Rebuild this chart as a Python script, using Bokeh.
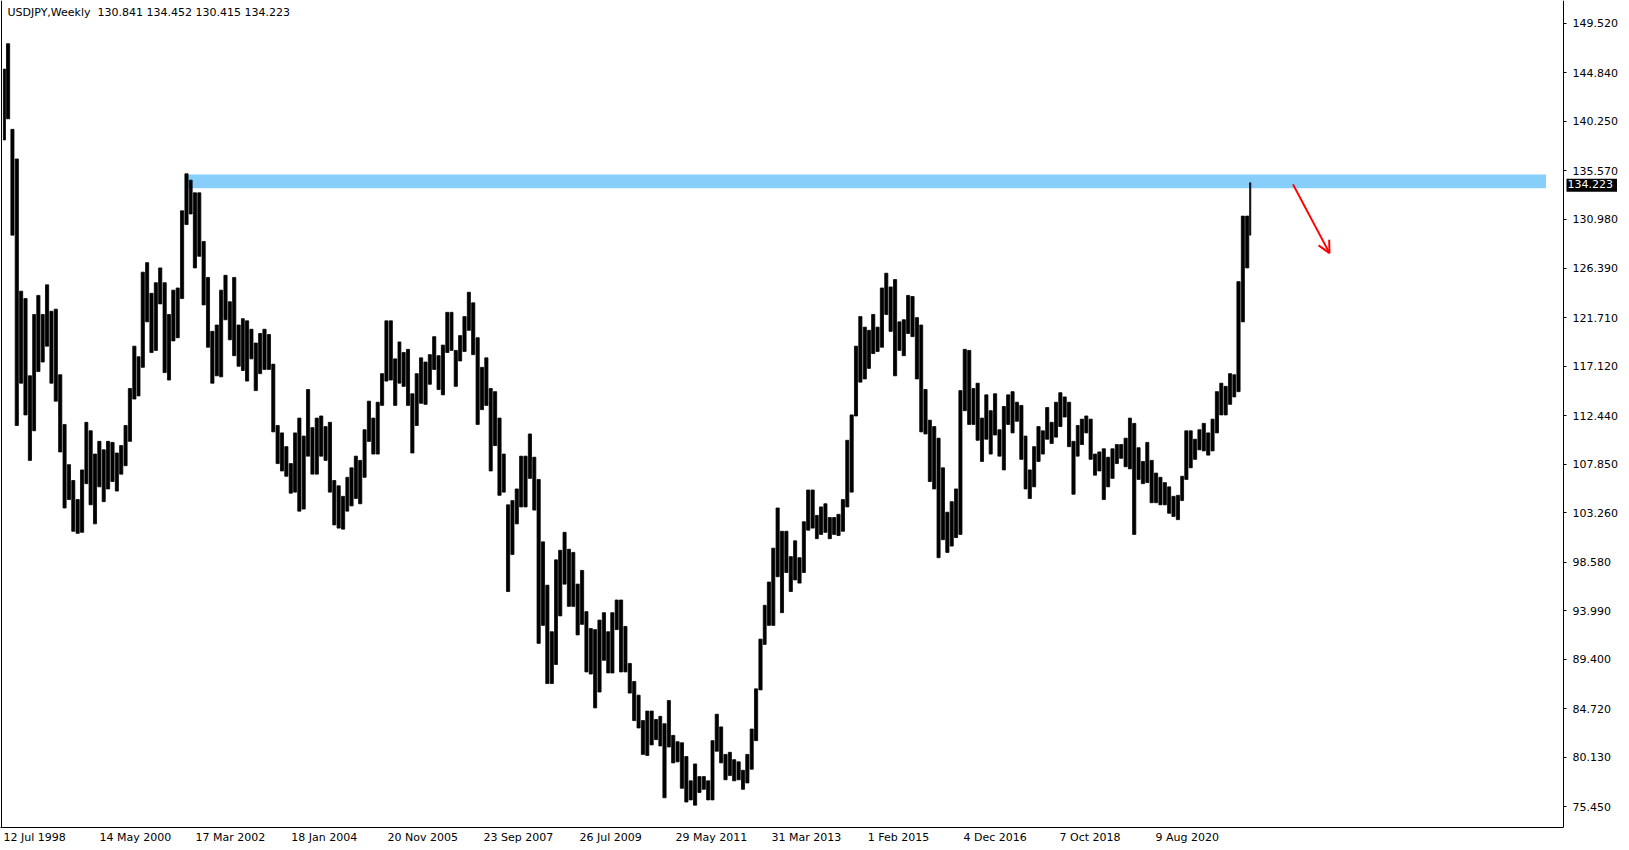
import datetime as dt
from bokeh.plotting import figure
from bokeh.models import Range1d, FixedTicker, NumeralTickFormatter, Label, Arrow, OpenHead, Span
from bokeh.embed import file_html
from bokeh.resources import INLINE

# ---------------- data (monthly high / low) ----------------
first_month = (1998, 7)
high = [
    145.2, 147.6, 139.5, 136.7, 124.2, 123.5,
    116.2, 122.0, 123.8, 122.0, 124.8, 122.3, 122.5, 116.3, 111.6, 107.8, 106.3, 104.5,
    107.3, 111.8, 111.0, 108.8, 110.0, 109.2, 110.0, 109.9, 108.9, 109.6, 111.5, 115.0,
    119.0, 118.0, 126.0, 126.9, 124.0, 125.0, 126.4, 125.0, 122.0, 124.3, 124.5, 131.8,
    135.3, 134.7, 133.5, 133.5, 128.9, 125.5, 120.4, 121.0, 124.3, 125.7, 123.2, 125.5,
    121.0, 121.6, 121.4, 120.6, 119.3, 120.2, 120.6, 120.1, 117.3, 111.5, 110.8, 109.5,
    107.9, 110.8, 112.2, 110.5, 114.9, 111.3, 112.2, 112.4, 111.4, 111.8, 106.3, 105.8,
    104.8, 106.6, 107.5, 108.6, 108.2, 111.1, 113.8, 112.2, 113.7, 116.4, 121.4, 121.4,
    117.8, 119.4, 118.4, 118.7, 114.5, 116.4, 117.9, 117.5, 118.2, 119.9, 118.1, 119.1,
    122.2, 122.2, 118.6, 120.0, 121.8, 124.1, 123.1, 119.8, 117.0, 117.9, 115.0, 114.7,
    112.2, 108.8, 104.0, 104.4, 105.5, 108.6, 108.6, 110.7, 108.5, 106.4, 100.5, 96.4,
    92.0, 98.8, 99.7, 101.4, 99.8, 99.5, 96.5, 97.8, 93.9, 92.3, 92.2, 93.1,
    93.8, 92.0, 93.8, 95.0, 95.0, 92.5, 89.0, 87.3, 86.0, 83.6, 84.5, 84.5,
    83.7, 84.0, 83.3, 85.5, 82.2, 81.6, 81.5, 80.2, 77.9, 79.5, 78.3, 78.3,
    77.9, 81.7, 84.2, 83.0, 80.4, 80.6, 79.9, 79.7, 78.9, 80.4, 82.8, 86.6,
    91.3, 94.5, 96.7, 99.9, 103.7, 101.5, 101.5, 99.1, 100.6, 99.0, 102.4, 105.4,
    105.4, 103.0, 103.8, 104.1, 102.8, 102.8, 103.1, 104.5, 110.1, 112.5, 119.0, 121.8,
    120.8, 120.5, 122.0, 120.8, 124.5, 125.9, 124.6, 125.3, 121.3, 121.5, 123.8, 123.7,
    121.7, 121.0, 114.9, 112.0, 111.4, 110.3, 107.5, 103.3, 104.3, 105.5, 114.8, 118.7,
    118.6, 115.0, 115.5, 112.2, 114.4, 112.9, 114.5, 111.1, 113.3, 114.4, 114.7, 113.7,
    113.4, 110.5, 107.3, 109.5, 111.4, 111.0, 113.2, 111.8, 113.7, 114.6, 114.2, 113.7,
    110.0, 111.5, 112.1, 112.4, 112.1, 108.8, 109.0, 109.3, 108.5, 109.3, 109.7, 109.7,
    110.3, 112.2, 111.7, 109.4, 108.1, 109.9, 108.2, 107.0, 106.6, 106.1, 105.7, 104.8,
    104.9, 106.7, 111.0, 111.0, 110.2, 111.1, 111.7, 110.8, 112.1, 114.7, 115.5, 115.2,
    116.4, 116.3, 125.1, 131.3, 131.3, 134.45,
]
low = [
    138.5, 140.5, 129.5, 111.5, 115.5, 112.5,
    108.2, 111.0, 116.6, 117.5, 119.0, 115.5, 113.8, 109.0, 103.7, 104.5, 101.5, 101.3,
    101.4, 106.0, 104.0, 102.2, 105.7, 104.3, 105.5, 106.2, 105.3, 106.9, 107.7, 110.0,
    114.0, 114.3, 117.0, 121.3, 118.4, 118.6, 123.0, 116.5, 115.8, 119.5, 119.8, 123.5,
    130.5, 131.5, 126.4, 127.5, 122.9, 118.9, 115.5, 116.2, 116.1, 121.5, 119.6, 118.1,
    117.1, 116.7, 115.7, 117.8, 114.8, 116.4, 116.8, 116.8, 110.9, 107.9, 107.2, 106.7,
    105.1, 105.2, 103.4, 103.6, 108.6, 106.9, 106.9, 108.6, 108.2, 105.2, 102.1, 101.8,
    101.7, 103.4, 103.9, 104.6, 104.1, 106.6, 110.0, 108.8, 108.8, 113.4, 115.7, 115.8,
    113.4, 115.5, 115.2, 113.4, 108.9, 111.5, 113.6, 113.5, 115.4, 116.8, 114.9, 114.4,
    118.4, 118.6, 115.2, 117.6, 118.5, 120.5, 118.2, 111.6, 113.0, 113.4, 107.2, 109.6,
    104.9, 105.2, 95.8, 99.3, 102.2, 103.8, 103.8, 106.5, 103.5, 90.9, 92.6, 87.1,
    87.1, 88.9, 93.5, 96.5, 94.4, 94.4, 91.7, 92.7, 88.2, 88.0, 84.8, 86.3,
    89.3, 88.1, 88.1, 92.2, 88.2, 88.2, 86.2, 83.6, 82.9, 80.4, 80.3, 81.3,
    81.8, 81.2, 76.3, 81.1, 79.6, 79.7, 77.2, 75.9, 76.1, 75.6, 76.8, 77.1,
    76.1, 76.1, 80.7, 79.6, 78.0, 78.4, 77.9, 78.0, 77.1, 77.7, 79.0, 81.7,
    86.5, 90.8, 92.6, 92.6, 97.2, 93.8, 97.6, 95.8, 96.9, 96.6, 97.6, 101.6,
    101.8, 100.8, 101.2, 101.4, 100.8, 101.2, 101.1, 101.5, 103.8, 105.2, 112.4, 115.6,
    115.9, 116.9, 118.3, 118.5, 118.9, 122.0, 120.4, 116.2, 118.6, 118.1, 120.2, 119.9,
    115.9, 110.9, 110.7, 106.2, 105.5, 99.0, 100.7, 99.5, 100.1, 100.9, 101.2, 112.9,
    111.6, 111.6, 110.1, 108.1, 110.2, 108.8, 110.6, 108.6, 107.3, 111.6, 110.8, 111.9,
    108.3, 105.5, 104.6, 105.7, 108.1, 108.8, 110.2, 109.8, 110.4, 111.4, 112.3, 109.5,
    105.0, 108.6, 109.7, 110.8, 108.3, 106.8, 107.2, 104.5, 105.7, 106.5, 107.9, 108.4,
    107.6, 107.4, 101.2, 106.4, 106.0, 106.1, 104.2, 104.2, 104.0, 104.0, 103.2, 102.9,
    102.6, 104.4, 106.4, 107.5, 108.3, 109.2, 109.1, 108.7, 109.1, 110.8, 112.5, 112.5,
    113.5, 114.2, 114.7, 121.3, 126.4, 129.5,
]
first_bar = dt.date(1998, 7, 12)      # first weekly bar on the chart
last_bar_end = dt.date(2022, 6, 12)   # end of the last weekly bar

last_ohlc = [130.841, 134.452, 130.415, 134.223]
last_close = 134.223

y_ticks = [149.520, 144.840, 140.250, 135.570, 130.980, 126.390, 121.710, 117.120,
           112.440, 107.850, 103.260, 98.580, 93.990, 89.400, 84.720, 80.130, 75.450]
x_tick_labels = ["12 Jul 1998", "14 May 2000", "17 Mar 2002", "18 Jan 2004", "20 Nov 2005",
                 "23 Sep 2007", "26 Jul 2009", "29 May 2011", "31 Mar 2013", "1 Feb 2015",
                 "4 Dec 2016", "7 Oct 2018", "9 Aug 2020"]

zone_weeks = [181.5, 1542.5]
zone_prices = [133.93, 135.23]
arrow_weeks = [1289.5, 1326.0]
arrow_prices = [134.30, 127.80]

# ---------------- derived positions ----------------
def week_index(d):
    return (d - first_bar).days / 7.0

starts = []
yy, mm = first_month
for _ in range(len(high) + 1):
    starts.append(dt.date(yy, mm, 1))
    mm += 1
    if mm > 12:
        mm = 1
        yy += 1
left = [week_index(max(d, first_bar)) - 0.5 for d in starts[:-1]]
right = [week_index(min(d, last_bar_end)) - 0.5 for d in starts[1:]]
center = [(a + b) / 2 for a, b in zip(left, right)]
span = [(b - a) * 0.72 for a, b in zip(left, right)]

x_tick_pos = [week_index(dt.datetime.strptime(s, "%d %b %Y").date()) for s in x_tick_labels]

FONT = "DejaVu Sans"
FS = 11
# approximate DejaVu Sans advance widths (em) to left-align the date labels on their bars
ADV = {"0": .636, "1": .636, "2": .636, "3": .636, "4": .636, "5": .636, "6": .636, "7": .636,
       "8": .636, "9": .636, " ": .318, "J": .295, "u": .634, "l": .278, "M": .863, "a": .613,
       "y": .592, "r": .411, "S": .635, "e": .615, "p": .635, "N": .748, "o": .612, "v": .592,
       "F": .575, "b": .635, "D": .770, "c": .550, "O": .787, "t": .392, "A": .684, "g": .635}
def text_w(s):
    return sum(ADV.get(ch, .6) for ch in s) * FS

CHART_W = 1563          # width of the price area (px) - price scale sits at its right edge
FW, FH = 1629, 827
PX_PER_YEN = 10.576
x0 = -3
x_scale = x0 + CHART_W
y_top = 149.52 + 22.9 / PX_PER_YEN
y_bot = y_top - FH / PX_PER_YEN

p = figure(frame_width=FW, frame_height=FH, output_backend="svg", toolbar_location=None,
           x_range=Range1d(x0, x0 + FW), y_range=Range1d(y_bot, y_top),
           y_axis_location="right", min_border_left=0, min_border_top=0,
           min_border_right=0, min_border_bottom=0)
p.grid.visible = False
p.outline_line_color = None
p.background_fill_color = "white"
p.border_fill_color = "white"

# left border of the chart window
p.add_layout(Span(location=x0 + 1, dimension="height", line_color="black", line_width=1))

# support/resistance zone
p.quad(left=[zone_weeks[0]], right=[zone_weeks[1]], bottom=[zone_prices[0]], top=[zone_prices[1]],
       fill_color="#87CEFA", line_color=None)

# price bars
p.vbar(x=center, width=span, top=high, bottom=low, fill_color="black",
       line_color="black", line_width=0.8)

# arrow
p.add_layout(Arrow(x_start=arrow_weeks[0], y_start=arrow_prices[0],
                   x_end=arrow_weeks[1], y_end=arrow_prices[1],
                   line_color="red", line_width=2,
                   end=OpenHead(line_color="red", line_width=2, size=12)))

# right price scale, placed at the right edge of the price area
ya = p.yaxis[0]
ya.fixed_location = x_scale
ya.ticker = FixedTicker(ticks=y_ticks)
ya.formatter = NumeralTickFormatter(format="0.000")
ya.minor_tick_line_color = None
ya.major_tick_in = 0
ya.major_tick_out = 3
ya.major_label_standoff = 6
ya.axis_line_color = "black"
ya.major_label_text_font = FONT
ya.major_label_text_font_size = f"{FS}px"
ya.major_label_text_color = "black"

# time axis: date labels start at their dates
lab_pos = [t + text_w(s) / 2 for t, s in zip(x_tick_pos, x_tick_labels)]
xa = p.xaxis[0]
xa.bounds = (x0, x_scale)
xa.ticker = FixedTicker(ticks=lab_pos)
xa.major_label_overrides = {t: s for t, s in zip(lab_pos, x_tick_labels)}
xa.major_tick_line_color = None
xa.minor_tick_line_color = None
xa.major_tick_out = 0
xa.major_tick_in = 0
xa.major_label_standoff = 3
xa.axis_line_color = "black"
xa.major_label_text_font = FONT
xa.major_label_text_font_size = f"{FS}px"
xa.major_label_text_color = "black"

header = "USDJPY,Weekly\u00a0\u00a0" + " ".join(f"{v:.3f}" for v in last_ohlc)
p.add_layout(Label(x=x0 + 7, y=y_top - 12 / PX_PER_YEN, text=header,
                   text_font=FONT, text_font_size=f"{FS}px", text_color="black",
                   text_baseline="middle"))

# last price tag on the price scale
tag = Label(x=x_scale, y=last_close, text=f"{last_close:.3f}",
            text_font=FONT, text_font_size=f"{FS}px", text_color="white",
            background_fill_color="black", text_baseline="middle",
            x_offset=6, level="overlay")
try:
    tag.padding = (1, 4, 1, 4)
    tag.x_offset = 3
except Exception:
    pass
p.add_layout(tag)

open("out.html", "w").write(file_html(p, INLINE))
